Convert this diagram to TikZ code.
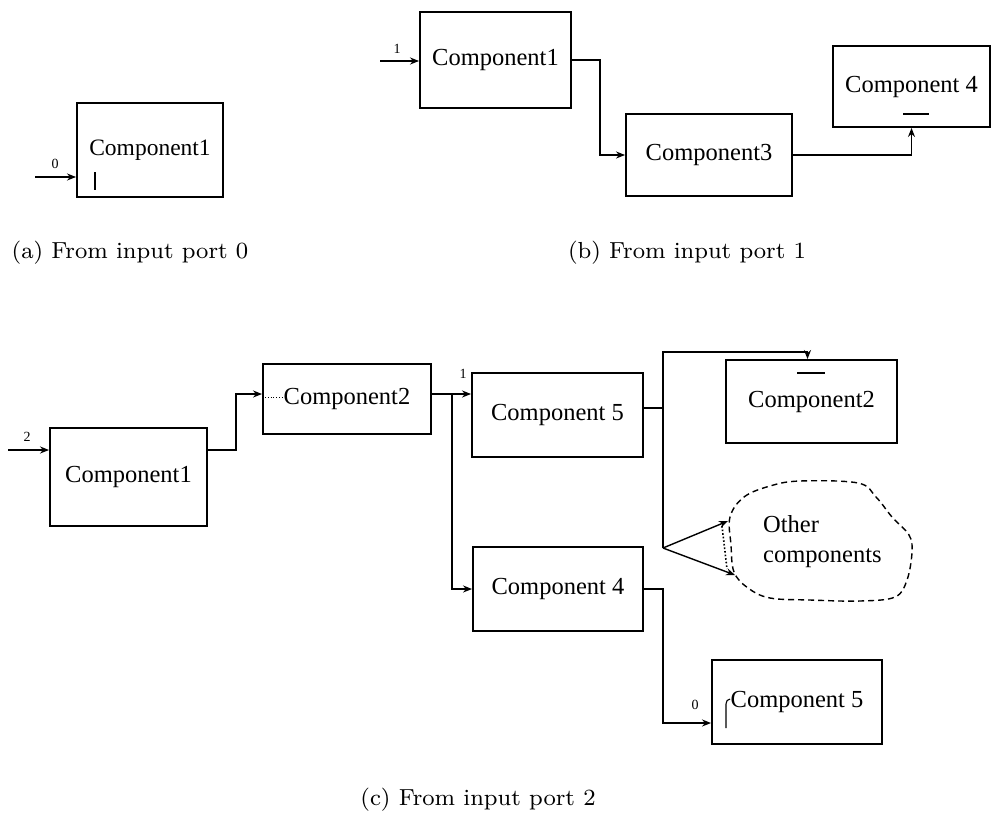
\documentclass[tikz,border=0pt]{standalone}
\usepackage{fontspec}
\usepackage{graphicx}
\newfontfamily\boxfont{Liberation Serif}
\usetikzlibrary{arrows.meta}
\tikzset{
  comp/.style={draw, line width=1.9pt, inner sep=0pt, font=\boxfont\fontsize{24.5}{28}\selectfont},
  conn/.style={line width=1.4pt},
  arr/.style={conn, -{Stealth[length=9pt,width=7pt]}},
  portlbl/.style={font=\boxfont\fontsize{14}{16}\selectfont, inner sep=0pt},
  tickmark/.style={line width=1.1pt},
  caption/.style={inner sep=0pt},
  cloudline/.style={line width=1.4pt, dash pattern=on 6pt off 4pt}
}
\newcommand{\capt}[1]{\scalebox{2.9}{\fontsize{8}{9.6}\selectfont #1}}
\begin{document}
\begin{tikzpicture}[x=1pt,y=-1pt]
\useasboundingbox (0,0) rectangle (992,819);

% ---------- (a) ----------
\node[comp, minimum width=146pt, minimum height=94pt, font=\boxfont\fontsize{23.5}{28}\selectfont] (a1) at (150,150) {Component1};
\coordinate (a0) at (35,177);
\draw[arr] (a0) -- (a0 -| a1.west);
\node[portlbl] (al) at (55,164) {0};
\draw[tickmark] (95,172) -- (95,190);
\node[caption] (acap) at (130,253) {\capt{(a) From input port 0}};

% ---------- (b) ----------
\node[comp, minimum width=151pt, minimum height=96pt] (b1) at (495.5,60) {Component1};
\node[comp, minimum width=166pt, minimum height=82pt] (b3) at (709,155) {Component3};
\node[comp, minimum width=157pt, minimum height=81pt] (b4) at (911.5,86.5) {Component 4};
\coordinate (b0) at (380,61);
\draw[arr] (b0) -- (b0 -| b1.west);
\node[portlbl] (bl) at (397,49) {1};
\draw[arr] (b1.east) -- ++(28,0) |- (b3.west);
\draw[arr] (b3.east) -| (b4.south);
\draw[tickmark] (903,114) -- (929,114);
\node[caption] (bcap) at (687,253) {\capt{(b) From input port 1}};

% ---------- (c) ----------
\node[comp, minimum width=157pt, minimum height=98pt] (c1) at (128.5,477) {Component1};
\node[comp, minimum width=168pt, minimum height=70pt] (c2) at (347,399) {Component2};
\node[comp, minimum width=171pt, minimum height=84pt] (c5a) at (557.5,415) {Component 5};
\node[comp, minimum width=170pt, minimum height=84pt] (c4) at (558,589) {Component 4};
\node[comp, minimum width=171pt, minimum height=83pt] (c2r) at (811.5,401.5) {Component2};
\node[comp, minimum width=170pt, minimum height=84pt] (c5b) at (797,702) {Component 5};

\coordinate (c0) at (8,450);
\draw[arr] (c0) -- (c0 -| c1.west);
\node[portlbl] (cl) at (27,437) {2};

\draw[arr] ([yshift=27pt]c1.east) -- ++(28,0) |- ([yshift=5pt]c2.west);
\draw[line width=0.8pt, dotted] ([yshift=2pt,xshift=3pt]c2.west) -- ++(18,0);
\draw[arr] ([yshift=5pt]c2.east) -- ([yshift=21pt]c5a.west);
\coordinate (j1) at (452,394);
\draw[arr] (j1) |- (c4.west);
\node[portlbl] (c1l) at (463,374) {1};

\coordinate (j2) at (663,408);
\coordinate (j3) at (663,548);
\coordinate (jt) at (663,352);
\draw[conn] ([yshift=7pt]c5a.east) -- (j2);
\draw[arr] (j3) -- (jt) -| ([xshift=-4pt]c2r.north);
\draw[tickmark] (797,373) -- (825,373);

% cloud
\draw[cloudline] plot[smooth cycle, tension=0.6] coordinates {
  (730,517) (744,497) (770,486) (800,481) (858,483) (876,497) (892,517)
  (909,535) (912,552) (907,580) (895,597) (860,601) (810,600) (770,598)
  (748,588) (734,572) (731,545)};
\coordinate (k1) at (728,521);
\coordinate (k2) at (735,575);
\draw[arr] (j3) -- (k1);
\draw[arr] (j3) -- (k2);
\draw[dotted, line width=1.6pt] (722,526) -- (727,569);
\node[font=\boxfont\fontsize{24.5}{30}\selectfont, align=left, anchor=west, inner sep=0pt] (oc) at (763,542) {Other\\components};

\draw[arr] (c4.east) -- ++(19,0) |- ([yshift=-21pt]c5b.west);
\node[portlbl] (c0l) at (695,705) {0};
\draw[tickmark] (726,728) -- (726,704) to[out=90,in=180] (730,699);

\node[caption] (ccap) at (478,800) {\capt{(c) From input port 2}};
\end{tikzpicture}
\end{document}
